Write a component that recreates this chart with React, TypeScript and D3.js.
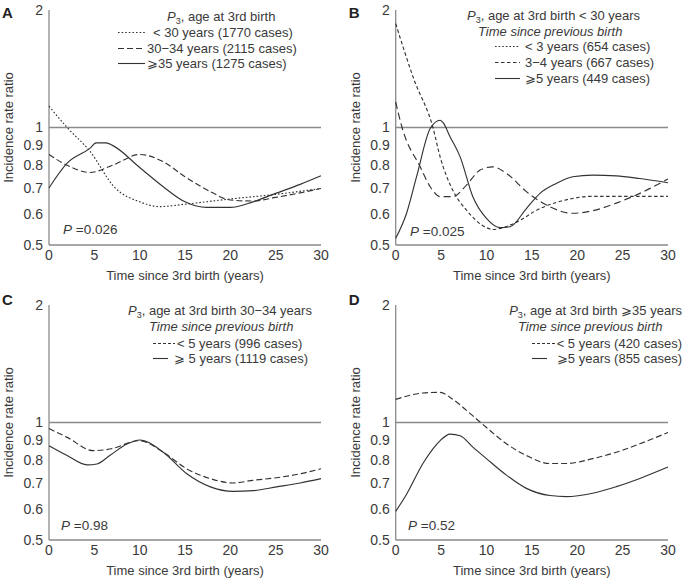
import React from "react";
import * as d3 from "d3";

// ---------- DATA ----------
const yTicks = [0.5, 0.6, 0.7, 0.8, 0.9, 1, 2];
const xTicks = [0, 5, 10, 15, 20, 25, 30];

// Panel A
const aYears = [0, 2, 4.5, 7.3, 10, 12.2, 15, 20, 25, 30];
const aUnder30 = [1.134, 1.0, 0.87, 0.7, 0.645, 0.627, 0.636, 0.656, 0.674, 0.698];
const aYearsB = [0, 2, 4.5, 7, 10, 12.6, 15, 17.8, 20, 22.5, 25, 27.7, 30];
const a30to34 = [0.853, 0.8, 0.767, 0.8, 0.853, 0.817, 0.748, 0.685, 0.652, 0.648, 0.662, 0.68, 0.698];
const aYearsC = [0, 2, 4.5, 5.2, 6.3, 7, 10, 12.6, 15, 17.4, 20, 22.5, 25, 27.7, 30];
const a35plus = [0.7, 0.81, 0.884, 0.913, 0.913, 0.9, 0.79, 0.705, 0.645, 0.624, 0.624, 0.645, 0.678, 0.715, 0.752];

// Panel B
const bYearsA = [0, 2, 4.1, 4.9, 6.3, 7.8, 10, 10.7, 12.9, 15.9, 19.5, 21.4, 25, 30];
const bUnder3 = [1.845, 1.33, 1.0, 0.84, 0.69, 0.614, 0.554, 0.548, 0.566, 0.62, 0.658, 0.666, 0.666, 0.666];
const bYearsB = [0, 0.7, 2.7, 3.8, 4.9, 6.3, 7.8, 9.3, 10.7, 12.2, 14.4, 16.6, 19.5, 21.7, 24.3, 26.9, 30];
const b3to4 = [1.163, 1.0, 0.793, 0.705, 0.665, 0.665, 0.712, 0.778, 0.793, 0.763, 0.685, 0.633, 0.603, 0.612, 0.64, 0.678, 0.738];
const bYearsC = [0, 1.2, 2.3, 3.8, 4.9, 5.2, 6, 7.1, 8.5, 10, 11.5, 12.6, 14.4, 15.9, 17.7, 19.5, 21.7, 24.3, 26.9, 30];
const b5plus = [0.52, 0.603, 0.748, 0.994, 1.044, 1.03, 0.946, 0.841, 0.665, 0.585, 0.554, 0.557, 0.62, 0.678, 0.719, 0.748, 0.755, 0.752, 0.74, 0.722];

// Panel C
const cYearsA = [0, 2, 4.9, 6.7, 10, 12.6, 15.2, 17.8, 20.3, 22.5, 25.1, 27.7, 30];
const cUnder5 = [0.965, 0.916, 0.847, 0.855, 0.898, 0.839, 0.761, 0.718, 0.7, 0.711, 0.722, 0.739, 0.761];
const cYearsB = [0, 2, 4.2, 5.3, 6.7, 8.6, 10, 12.6, 15.2, 17.8, 20.3, 22.5, 25.1, 27.7, 30];
const c5plus = [0.872, 0.823, 0.779, 0.783, 0.823, 0.881, 0.902, 0.839, 0.739, 0.684, 0.666, 0.669, 0.684, 0.7, 0.718];

// Panel D
const dYearsA = [0, 3, 4.9, 6.3, 8.5, 10, 12.2, 14.4, 17, 18.8, 21.7, 24.3, 26.9, 30];
const dUnder5 = [1.146, 1.19, 1.195, 1.146, 1.04, 0.971, 0.882, 0.823, 0.785, 0.785, 0.808, 0.839, 0.882, 0.943];
const dYearsB = [0, 1.2, 3, 4.1, 4.9, 6, 7.1, 8.5, 10, 12.2, 14.4, 17, 18.8, 21.7, 24.3, 26.9, 30];
const d5plus = [0.592, 0.655, 0.785, 0.856, 0.899, 0.934, 0.925, 0.865, 0.808, 0.733, 0.678, 0.65, 0.646, 0.659, 0.685, 0.719, 0.769];

// ---------- STYLE ----------
const TXT = "#3a3a3a";
const AXIS = "#8a8a8a";
const LINE = "#333";
const FONT = "'Liberation Sans', Arial, Helvetica, sans-serif";
const DOT = "1.6,2";
const DASH = "6,3";
const SDASH = "3.5,2.5";
const EN = "\u2212";
const GE = "\u2a7e";
const LFS = 13;

type Series = { xs: number[]; ys: number[]; dash?: string };
type LegendLine = { text: React.ReactNode; x: number; y: number; sx1?: number; sx2?: number; dash?: string; italic?: boolean; anchor?: string };

type PanelProps = {
  letter: string; letterY: number;
  ox: number; oy: number;
  left: number; right: number; top: number; bottom: number;
  series: Series[];
  legend: LegendLine[];
  pText: string; px: number; py: number;
};

function Panel(p: PanelProps) {
  const x = d3.scaleLinear().domain([0, 30]).range([p.left, p.right]);
  const y = d3.scaleLog().base(2).domain([0.5, 2]).range([p.bottom, p.top]);
  const line = d3
    .line<[number, number]>()
    .x((d) => x(d[0]))
    .y((d) => y(d[1]))
    .curve(d3.curveMonotoneX);
  return (
    <g transform={`translate(${p.ox},${p.oy})`} fontFamily={FONT} fill={TXT}>
      <text x={p.left - 47} y={p.letterY} fontSize={15} fontWeight="bold" fill="#222">{p.letter}</text>
      <line x1={p.left} x2={p.left} y1={p.top} y2={p.bottom} stroke={AXIS} strokeWidth={1.3} />
      <line x1={p.left} x2={p.right} y1={p.bottom} y2={p.bottom} stroke={AXIS} strokeWidth={1.3} />
      <line x1={p.left} x2={p.right} y1={y(1)} y2={y(1)} stroke={AXIS} strokeWidth={1.4} />
      {yTicks.map((t) => (
        <text key={t} x={p.left - 6} y={y(t)} dy="0.35em" textAnchor="end" fontSize={14}>{String(t)}</text>
      ))}
      {xTicks.map((t) => (
        <text key={t} x={x(t)} y={p.bottom + 15} textAnchor="middle" fontSize={14}>{String(t)}</text>
      ))}
      <text x={(p.left + p.right) / 2} y={p.bottom + 35} textAnchor="middle" fontSize={13}>Time since 3rd birth (years)</text>
      <text transform={`translate(${p.left - 36},${(p.top + p.bottom) / 2}) rotate(-90)`} textAnchor="middle" fontSize={13}>Incidence rate ratio</text>
      {p.series.map((s, i) => (
        <path key={i} d={line(s.xs.map((v, j) => [v, s.ys[j]] as [number, number])) || ""} fill="none" stroke={LINE} strokeWidth={1.15} strokeDasharray={s.dash} />
      ))}
      {p.legend.map((l, i) => (
        <g key={i}>
          {l.sx1 !== undefined && (
            <line x1={l.sx1} x2={l.sx2} y1={l.y - 4.5} y2={l.y - 4.5} stroke={LINE} strokeWidth={1.1} strokeDasharray={l.dash} />
          )}
          <text x={l.x} y={l.y} fontSize={LFS} fontStyle={l.italic ? "italic" : "normal"} textAnchor={l.anchor || "start"}>{l.text}</text>
        </g>
      ))}
      <text x={p.px} y={p.py} fontSize={13.5}>
        <tspan fontStyle="italic">P</tspan>{" =0." + p.pText}
      </text>
    </g>
  );
}

function P3(suffix: string) {
  return (
    <>
      <tspan fontStyle="italic">P</tspan>
      <tspan fontSize={9} dy={3}>3</tspan>
      <tspan dy={-3}>{", age at 3rd birth" + suffix}</tspan>
    </>
  );
}

export default function App() {
  return (
    <svg width={685} height={578} style={{ position: "absolute", left: 0, top: 0, background: "#fff" }}>
      <Panel
        letter="A" letterY={8} ox={0} oy={10} left={49} right={321} top={0} bottom={235}
        series={[
          { xs: aYears, ys: aUnder30, dash: DOT },
          { xs: aYearsB, ys: a30to34, dash: DASH },
          { xs: aYearsC, ys: a35plus },
        ]}
        legend={[
          { text: P3(""), x: 167, y: 11 },
          { text: "< 30 years (1770 cases)", x: 153, y: 27, sx1: 118, sx2: 145, dash: DOT },
          { text: "30" + EN + "34 years (2115 cases)", x: 147, y: 43, sx1: 118, sx2: 145, dash: DASH },
          { text: GE + "35 years (1275 cases)", x: 147, y: 58, sx1: 118, sx2: 145 },
        ]}
        pText="026" px={63} py={224}
      />
      <Panel
        letter="B" letterY={8} ox={340} oy={10} left={55.7} right={328} top={0} bottom={235}
        series={[
          { xs: bYearsA, ys: bUnder3, dash: SDASH },
          { xs: bYearsB, ys: b3to4, dash: "7,4" },
          { xs: bYearsC, ys: b5plus },
        ]}
        legend={[
          { text: P3(" < 30 years"), x: 127, y: 10 },
          { text: "Time since previous birth", x: 138, y: 26, italic: true },
          { text: "< 3 years (654 cases)", x: 185, y: 41, sx1: 155, sx2: 180, dash: DOT },
          { text: "3" + EN + "4 years (667 cases)", x: 185, y: 57, sx1: 155, sx2: 180, dash: SDASH },
          { text: GE + "5 years (449 cases)", x: 185, y: 73, sx1: 155, sx2: 180 },
        ]}
        pText="025" px={70} py={226}
      />
      <Panel
        letter="C" letterY={0} ox={0} oy={305} left={49} right={321} top={0} bottom={235}
        series={[
          { xs: cYearsA, ys: cUnder5, dash: DASH },
          { xs: cYearsB, ys: c5plus },
        ]}
        legend={[
          { text: P3(" 30" + EN + "34 years"), x: 128, y: 10 },
          { text: "Time since previous birth", x: 149, y: 26, italic: true },
          { text: "< 5 years (996 cases)", x: 177, y: 43, sx1: 153, sx2: 175, dash: "3,2" },
          { text: GE + " 5 years (1119 cases)", x: 174, y: 58, sx1: 153, sx2: 168 },
        ]}
        pText="98" px={61} py={225}
      />
      <Panel
        letter="D" letterY={0} ox={340} oy={305} left={55.7} right={328} top={0} bottom={235}
        series={[
          { xs: dYearsA, ys: dUnder5, dash: DASH },
          { xs: dYearsB, ys: d5plus },
        ]}
        legend={[
          { text: P3(" " + GE + "35 years"), x: 342, y: 10, anchor: "end" },
          { text: "Time since previous birth", x: 178, y: 26, italic: true },
          { text: "< 5 years (420 cases)", x: 342, y: 43, sx1: 192, sx2: 215, dash: "3,2", anchor: "end" },
          { text: GE + "5 years (855 cases)", x: 342, y: 58, sx1: 192, sx2: 207, anchor: "end" },
        ]}
        pText="52" px={68} py={225}
      />
    </svg>
  );
}
